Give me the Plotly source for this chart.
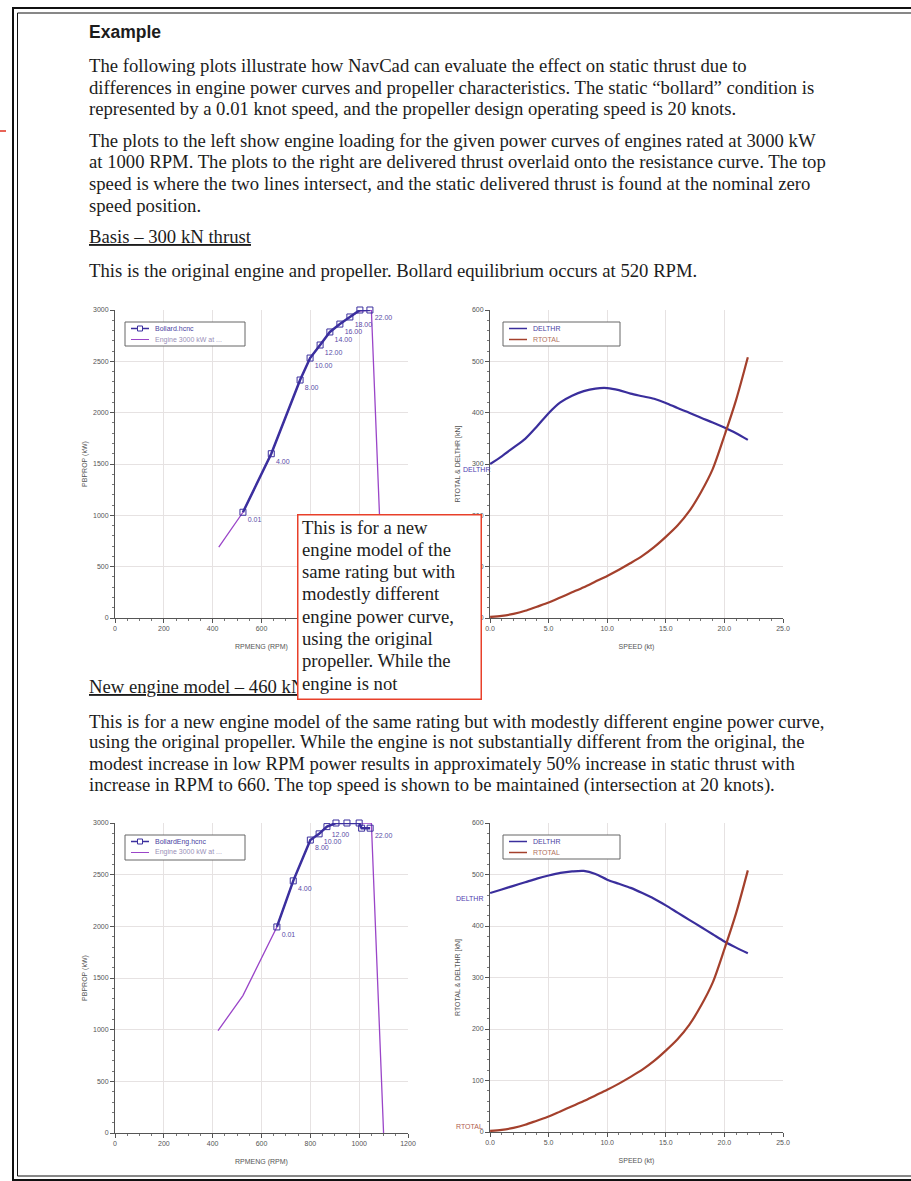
import plotly.graph_objects as go

W, H = 911, 1181

# ---------------- data ----------------
# Basis engine / propeller (top-left)
rpm_engine_basis = [425, 524, 640, 758, 799, 840, 880, 921, 962, 1003, 1050, 1100]
kw_engine_basis = [690, 1030, 1600, 2318, 2532, 2659, 2786, 2863, 2932, 2990, 3000, 0]
rpm_bollard_basis = [524, 640, 758, 799, 840, 880, 921, 962, 1003, 1044]
kw_bollard_basis = [1030, 1600, 2318, 2532, 2659, 2786, 2863, 2932, 3000, 3000]
bollard_speed_labels_basis = ["0.01", "4.00", "8.00", "10.00", "12.00", "14.00",
                              "16.00", "18.00", "", "22.00"]

# New engine model (bottom-left)
rpm_engine_new = [422, 524, 663, 730, 800, 836, 868, 905, 950, 1000, 1050, 1100]
kw_engine_new = [990, 1330, 1994, 2440, 2835, 2895, 2965, 3000, 3000, 3000, 3000, 0]
rpm_bollard_new = [663, 730, 800, 836, 868, 905, 950, 1000, 1010, 1045]
kw_bollard_new = [1994, 2440, 2835, 2895, 2965, 3000, 3000, 3000, 2950, 2950]
bollard_speed_labels_new = ["0.01", "4.00", "8.00", "10.00", "12.00", "", "", "", "", "22.00"]

# Thrust / resistance (right-hand plots)
speed_kt = [0.01, 1, 2, 3, 4, 5, 6, 7, 8, 9, 10, 11, 12, 13, 14, 15, 16, 17, 18, 19, 20, 21, 22]
delthr_basis = [300, 315, 332, 349, 373, 399, 420, 433, 442, 447, 448, 444, 437, 432, 427,
                419, 409, 400, 390, 381, 371, 360, 347]
delthr_new = [464, 471, 478, 485, 492, 498, 503, 506, 507, 501, 490, 482, 474, 464, 453,
              440, 426, 412, 398, 384, 370, 358, 347]
rtotal = [2, 4, 8, 14, 22, 30, 40, 50, 60, 71, 82, 94, 107, 121, 138, 158, 180, 208,
          245, 290, 355, 425, 508]

rpm_ticks = [0, 200, 400, 600, 800, 1000, 1200]
rpm_ticktext_top = ["0", "200", "400", "600", "", "", ""]      # right part hidden by comment box
rpm_ticktext_bottom = ["0", "200", "400", "600", "800", "1000", "1200"]

# ---------------- styling ----------------
C_BOLL = "#3b2f9e"
C_ENG = "#9a45c8"
C_DEL = "#3a2e9c"
C_RT = "#a4402c"
C_LAB = "#5a4aa8"
SERIF = "Liberation Serif"
SANS = "Liberation Sans"
TXT = "#1c1c1c"


def px(x):
    return x / W


def py(y):
    return 1 - y / H


fig = go.Figure()

# top-left
fig.add_trace(go.Scatter(x=rpm_engine_basis, y=kw_engine_basis, mode="lines",
                         line=dict(color=C_ENG, width=1.3), xaxis="x", yaxis="y",
                         cliponaxis=False, name="Engine 3000 kW"))
fig.add_trace(go.Scatter(x=rpm_bollard_basis, y=kw_bollard_basis, mode="lines+markers+text",
                         line=dict(color=C_BOLL, width=2.5),
                         marker=dict(symbol="square-open", size=6, color=C_BOLL, line=dict(width=1)),
                         text=bollard_speed_labels_basis, textposition="bottom right",
                         textfont=dict(family=SANS, size=7, color=C_LAB),
                         xaxis="x", yaxis="y", cliponaxis=False, name="Bollard.hcnc"))
# top-right
fig.add_trace(go.Scatter(x=speed_kt, y=delthr_basis, mode="lines",
                         line=dict(color=C_DEL, width=2.2, shape="spline", smoothing=0.8),
                         xaxis="x2", yaxis="y2", cliponaxis=False, name="DELTHR"))
fig.add_trace(go.Scatter(x=speed_kt, y=rtotal, mode="lines",
                         line=dict(color=C_RT, width=2.2, shape="spline", smoothing=0.8),
                         xaxis="x2", yaxis="y2", cliponaxis=False, name="RTOTAL"))
# bottom-left
fig.add_trace(go.Scatter(x=rpm_engine_new, y=kw_engine_new, mode="lines",
                         line=dict(color=C_ENG, width=1.3), xaxis="x3", yaxis="y3",
                         cliponaxis=False, name="Engine 3000 kW"))
fig.add_trace(go.Scatter(x=rpm_bollard_new, y=kw_bollard_new, mode="lines+markers+text",
                         line=dict(color=C_BOLL, width=2.5),
                         marker=dict(symbol="square-open", size=6, color=C_BOLL, line=dict(width=1)),
                         text=bollard_speed_labels_new, textposition="bottom right",
                         textfont=dict(family=SANS, size=7, color=C_LAB),
                         xaxis="x3", yaxis="y3", cliponaxis=False, name="BollardEng.hcnc"))
# bottom-right
fig.add_trace(go.Scatter(x=speed_kt, y=delthr_new, mode="lines",
                         line=dict(color=C_DEL, width=2.2, shape="spline", smoothing=0.8),
                         xaxis="x4", yaxis="y4", cliponaxis=False, name="DELTHR"))
fig.add_trace(go.Scatter(x=speed_kt, y=rtotal, mode="lines",
                         line=dict(color=C_RT, width=2.2, shape="spline", smoothing=0.8),
                         xaxis="x4", yaxis="y4", cliponaxis=False, name="RTOTAL"))


def base_axis(**kw):
    d = dict(showline=True, linecolor="#555", linewidth=1, ticks="outside", ticklen=4,
             tickcolor="#555", tickfont=dict(family=SANS, size=7, color="#555"),
             showgrid=True, gridcolor="#e6e2e2", gridwidth=1, zeroline=False,
             title_font=dict(family=SANS, size=7, color="#555"))
    d.update(kw)
    return d


def minor(dt):
    return dict(dtick=dt, tick0=0, ticklen=2, tickcolor="#777", ticks="outside", showgrid=False)


def rpm_axis(dom, anchor, ticktext):
    return base_axis(domain=[px(dom[0]), px(dom[1])], range=[0, 1200], tickmode="array",
                     tickvals=rpm_ticks, ticktext=ticktext, minor=minor(50),
                     title=dict(text="RPMENG (RPM)", standoff=12), anchor=anchor)


def speed_axis(dom, anchor):
    return base_axis(domain=[px(dom[0]), px(dom[1])], range=[0, 25], dtick=5, tick0=0,
                     tickformat=".1f", minor=minor(1),
                     title=dict(text="SPEED (kt)", standoff=12), anchor=anchor)


def yaxis(dom, rng, dt, mdt, title, anchor, standoff=4):
    return base_axis(domain=[py(dom[0]), py(dom[1])], range=rng, dtick=dt, tick0=0,
                     minor=minor(mdt), title=dict(text=title, standoff=standoff), anchor=anchor)


fig.update_layout(
    width=W, height=H, margin=dict(l=0, r=0, t=0, b=0),
    paper_bgcolor="white", plot_bgcolor="white", showlegend=False, template="none",
    xaxis=rpm_axis((115, 408), "y", rpm_ticktext_top),
    yaxis=yaxis((618, 310), [0, 3000], 500, 100, "PBPROP (kW)", "x"),
    xaxis2=speed_axis((490, 783), "y2"),
    yaxis2=yaxis((618, 310), [0, 600], 100, 20, "RTOTAL & DELTHR [kN]", "x2", standoff=10),
    xaxis3=rpm_axis((115, 408), "y3", rpm_ticktext_bottom),
    yaxis3=yaxis((1133, 823), [0, 3000], 500, 100, "PBPROP (kW)", "x3"),
    xaxis4=speed_axis((490, 783), "y4"),
    yaxis4=yaxis((1132, 823), [0, 600], 100, 20, "RTOTAL & DELTHR [kN]", "x4", standoff=10),
)

shapes = []
annotations = []

# page frame (double line) and small red marker
shapes.append(dict(type="rect", xref="paper", yref="paper", x0=px(13), x1=px(930), y0=py(8), y1=py(1180),
                   line=dict(color="#111", width=2)))
shapes.append(dict(type="rect", xref="paper", yref="paper", x0=px(17.5), x1=px(930), y0=py(13), y1=py(1176),
                   line=dict(color="#111", width=1)))
shapes.append(dict(type="line", xref="paper", yref="paper", x0=0, x1=px(6), y0=py(131), y1=py(131),
                   line=dict(color="#e03020", width=1.5)))


# manual legends
def legend_box(x0, y0, x1, y1, entries):
    shapes.append(dict(type="rect", xref="paper", yref="paper", x0=px(x0), x1=px(x1), y0=py(y0), y1=py(y1),
                       line=dict(color="#666", width=1), fillcolor="white", layer="above"))
    for i, (label, color, width, marker, tcolor) in enumerate(entries):
        yy = y0 + 6.5 + i * 11
        shapes.append(dict(type="line", xref="paper", yref="paper", x0=px(x0 + 6), x1=px(x0 + 24),
                           y0=py(yy), y1=py(yy), line=dict(color=color, width=width), layer="above"))
        if marker:
            cx = x0 + 15
            shapes.append(dict(type="rect", xref="paper", yref="paper", x0=px(cx - 2.5), x1=px(cx + 2.5),
                               y0=py(yy - 2.5), y1=py(yy + 2.5), line=dict(color=color, width=1),
                               fillcolor="white", layer="above"))
        annotations.append(dict(xref="paper", yref="paper", x=px(x0 + 28), y=py(yy), text=label,
                                showarrow=False, xanchor="left", yanchor="middle",
                                font=dict(family=SANS, size=7, color=tcolor)))


legend_box(125, 322, 245, 346, [("Bollard.hcnc", C_BOLL, 1.5, True, "#4a3f9f"),
                                ("Engine 3000 kW at ...", C_ENG, 1, False, "#9a8fb8")])
legend_box(503, 322, 620, 346, [("DELTHR", C_DEL, 1.5, False, "#4a3f9f"),
                                ("RTOTAL", C_RT, 1.5, False, "#b07060")])
legend_box(125, 835, 245, 860, [("BollardEng.hcnc", C_BOLL, 1.5, True, "#4a3f9f"),
                                ("Engine 3000 kW at ...", C_ENG, 1, False, "#9a8fb8")])
legend_box(503, 835, 620, 859, [("DELTHR", C_DEL, 1.5, False, "#4a3f9f"),
                                ("RTOTAL", C_RT, 1.5, False, "#b07060")])

# series start labels on the right-hand plots
annotations.append(dict(xref="x2", yref="y2", x=0, y=delthr_basis[0], text="DELTHR", showarrow=False,
                        xanchor="right", yanchor="top", xshift=2,
                        font=dict(family=SANS, size=7, color="#5040b0")))
annotations.append(dict(xref="x4", yref="y4", x=0, y=delthr_new[0], text="DELTHR", showarrow=False,
                        xanchor="right", yanchor="top", xshift=-5,
                        font=dict(family=SANS, size=7, color="#5040b0")))
annotations.append(dict(xref="x4", yref="y4", x=0, y=rtotal[0], text="RTOTAL", showarrow=False,
                        xanchor="right", yanchor="middle", xshift=-5, yshift=4,
                        font=dict(family=SANS, size=7, color="#b06050")))

# page text
BODY = 18.7


def line(y, text, size=BODY, family=SERIF, x=88):
    annotations.append(dict(xref="paper", yref="paper", x=px(x), y=py(y), text=text, showarrow=False,
                            xanchor="left", yanchor="middle", align="left", borderpad=0,
                            font=dict(family=family, size=size, color=TXT)))


line(32, "<b>Example</b>", size=17.5, family=SANS)
line(65, "The following plots illustrate how NavCad can evaluate the effect on static thrust due to")
line(87, "differences in engine power curves and propeller characteristics. The static “bollard” condition is")
line(108, "represented by a 0.01 knot speed, and the propeller design operating speed is 20 knots.")
line(140, "The plots to the left show engine loading for the given power curves of engines rated at 3000 kW")
line(162, "at 1000 RPM. The plots to the right are delivered thrust overlaid onto the resistance curve. The top")
line(183, "speed is where the two lines intersect, and the static delivered thrust is found at the nominal zero")
line(205, "speed position.")
line(237, "<u>Basis – 300 kN thrust</u>")
line(270, "This is the original engine and propeller. Bollard equilibrium occurs at 520 RPM.")
line(686, "<u>New engine model – 460 kN</u>")
line(721, "This is for a new engine model of the same rating but with modestly different engine power curve,")
line(742, "using the original propeller. While the engine is not substantially different from the original, the")
line(763, "modest increase in low RPM power results in approximately 50% increase in static thrust with")
line(785, "increase in RPM to 660. The top speed is shown to be maintained (intersection at 20 knots).")

# red comment box (an empty framed annotation drawn after the page text so it covers it)
annotations.append(dict(xref="paper", yref="paper", x=px(297), y=py(514), text=" ",
                        showarrow=False, xanchor="left", yanchor="top",
                        width=182, height=183, borderpad=0, bgcolor="white",
                        bordercolor="#e8402a", borderwidth=1.5,
                        font=dict(family=SERIF, size=10, color=TXT)))
box_lines = ["This is for a new", "engine model of the", "same rating but with",
             "modestly different", "engine power curve,", "using the original",
             "propeller. While the", "engine is not"]
for i, t in enumerate(box_lines):
    line(527 + i * 22.3, t, x=301)

fig.update_layout(shapes=shapes, annotations=annotations)
fig.write_html("out.html", config={"displayModeBar": False},
               post_script="document.body.style.margin='0px';document.body.style.overflow='hidden';")
